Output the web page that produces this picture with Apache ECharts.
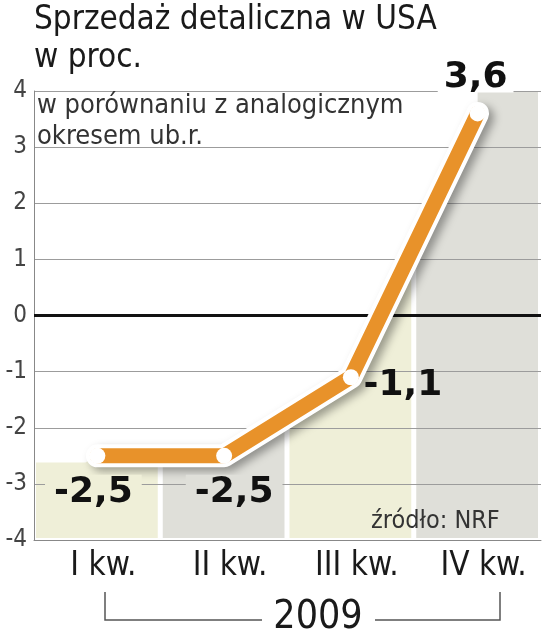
<!DOCTYPE html>
<html>
<head>
<meta charset="utf-8">
<script src="https://cdn.jsdelivr.net/npm/echarts@6/dist/echarts.min.js"></script>
<style>
html,body{margin:0;padding:0;background:#fff;}
#c{width:546px;height:640px;}
</style>
</head>
<body>
<div id="c"></div>
<script>
// ---- data ----
var categories = ['I kw.', 'II kw.', 'III kw.', 'IV kw.'];
var values = [-2.5, -2.5, -1.1, 3.6];
var valueLabels = ['-2,5', '-2,5', '-1,1', '3,6'];
var yTicks = [-4, -3, -2, -1, 0, 1, 2, 3, 4];
var bandLeftTop = -2.62;   // level of the first background column left of the first point
var titleText = 'Sprzedaż detaliczna w USA\nw proc.';
var subtitleText = 'w porównaniu z analogicznym\nokresem ub.r.';
var sourceText = 'źródło: NRF';
var yearText = '2009';

var FONT = '"DejaVu Sans Condensed", "DejaVu Sans", sans-serif';
var BOLD = '"DejaVu Sans", sans-serif';
var YELLOW = '#efefd8';
var GRAY = '#dfdfd9';
var ORANGE = '#e8922a';
var bandColors = [YELLOW, GRAY, YELLOW, GRAY];

var labelStyles = [
  {offset: [-4, 37], backgroundColor: YELLOW, padding: [0, 9]},
  {offset: [10, 37], backgroundColor: GRAY, padding: [0, 9]},
  {offset: [52, 8]},
  {offset: [-2, -36], backgroundColor: '#fff', padding: [0, 6], lineHeight: 30}
];

var chart = echarts.init(document.getElementById('c'), null, {renderer: 'canvas'});

var lineData = values.map(function (v, i) {
  var s = labelStyles[i];
  var lab = {show: true, position: 'inside', formatter: valueLabels[i], offset: s.offset};
  if (s.backgroundColor) lab.backgroundColor = s.backgroundColor;
  if (s.padding) lab.padding = s.padding;
  if (s.lineHeight) lab.lineHeight = s.lineHeight;
  return {value: v, label: lab};
});

// background columns: the area under the line, split into one coloured column per quarter
function renderBands(params, api) {
  if (params.dataIndex !== 0) return;
  var cs = params.coordSys;
  var yMax = yTicks[yTicks.length - 1], yMin = yTicks[0];
  var pts = values.map(function (v, i) { return api.coord([i, v]); });
  var yTop = api.coord([0, yMax])[1];
  var yBot = api.coord([0, yMin])[1] - 2;
  var yLeft = api.coord([0, bandLeftTop])[1];
  var last = pts[pts.length - 1];
  var first = pts[0];
  var poly = [[cs.x, yLeft], [first[0] - 12, yLeft]].concat(pts)
    .concat([[last[0] + 0.01, yTop], [cs.x + cs.width, yTop]]);
  function yAt(x) {
    for (var k = 0; k < poly.length - 1; k++) {
      var p = poly[k], q = poly[k + 1];
      if (x >= p[0] && x <= q[0]) {
        var t = (q[0] - p[0]) === 0 ? 0 : (x - p[0]) / (q[0] - p[0]);
        return p[1] + t * (q[1] - p[1]);
      }
    }
    return poly[poly.length - 1][1];
  }
  var w = api.size([1, 0])[0];
  var children = [];
  for (var i = 0; i < values.length; i++) {
    var cx = api.coord([i, 0])[0];
    var a = cx - w / 2 + 2, b = cx + w / 2 - 3;
    var shape = [[a, yBot], [a, yAt(a)]];
    poly.forEach(function (p) { if (p[0] > a && p[0] < b) shape.push([p[0], p[1]]); });
    shape.push([b, yAt(b)]);
    shape.push([b, yBot]);
    children.push({type: 'polygon', shape: {points: shape}, style: {fill: bandColors[i]}, silent: true});
  }
  return {type: 'group', children: children};
}

var option = {
  animation: false,
  backgroundColor: '#fff',
  title: {
    text: titleText,
    left: 34, top: 1, padding: 0,
    textStyle: {fontFamily: FONT, fontSize: 33, fontWeight: 'normal', color: '#1a1a1a', lineHeight: 38}
  },
  grid: {left: 34, right: 5, top: 91, bottom: 100, containLabel: false},
  xAxis: {
    type: 'category',
    data: categories,
    boundaryGap: true,
    axisLine: {show: true, onZero: false, lineStyle: {color: '#888', width: 1}},
    axisTick: {show: false},
    axisLabel: {fontFamily: FONT, fontSize: 33, color: '#1a1a1a', margin: 10, padding: [0, 0, 0, 12]},
    splitLine: {show: false}
  },
  yAxis: {
    type: 'value',
    min: yTicks[0], max: yTicks[yTicks.length - 1], interval: 1,
    axisLine: {show: true, lineStyle: {color: '#888', width: 1}},
    axisTick: {show: false},
    axisLabel: {fontFamily: FONT, fontSize: 24, color: '#444', margin: 7, padding: [18, 0, 0, 0]},
    splitLine: {show: true, lineStyle: {color: '#9c9c9c', width: 1}}
  },
  graphic: [
    {type: 'text', left: 37, top: 90, z: 10,
      style: {text: subtitleText, fontFamily: FONT, fontSize: 27, lineHeight: 31, fill: '#333'}},
    {type: 'text', left: 371, top: 509, z: 10,
      style: {text: sourceText, fontFamily: FONT, fontSize: 25, fill: '#333'}},
    {type: 'polyline', z: 10, shape: {points: [[105, 592], [105, 620], [262, 620]]},
      style: {stroke: '#555', lineWidth: 1.5, fill: null}},
    {type: 'polyline', z: 10, shape: {points: [[375, 620], [500, 620], [500, 592]]},
      style: {stroke: '#555', lineWidth: 1.5, fill: null}},
    {type: 'text', x: 318, y: 618, z: 10,
      style: {text: yearText, fontFamily: FONT, fontSize: 39, fill: '#1a1a1a', align: 'center', verticalAlign: 'middle'}}
  ],
  series: [
    {
      type: 'custom',
      z: -1,
      silent: true,
      renderItem: renderBands,
      data: values
    },
    {
      type: 'line',
      data: values,
      z: 3,
      symbol: 'none',
      silent: true,
      lineStyle: {color: '#fff', width: 23, cap: 'round', join: 'round',
        shadowColor: 'rgba(0,0,0,0.35)', shadowBlur: 9, shadowOffsetX: 5, shadowOffsetY: 4},
      markLine: {
        silent: true, symbol: 'none', label: {show: false}, z: 2,
        lineStyle: {color: '#111', width: 3, type: 'solid'},
        data: [{yAxis: 0}]
      }
    },
    {
      type: 'line',
      data: lineData,
      z: 4,
      symbol: 'circle',
      symbolSize: 16,
      silent: true,
      itemStyle: {color: '#fff', borderWidth: 0},
      lineStyle: {color: ORANGE, width: 15, cap: 'round', join: 'round'},
      label: {fontFamily: BOLD, fontSize: 36, fontWeight: 'bold', color: '#111'}
    }
  ]
};
chart.setOption(option);
</script>
</body>
</html>
